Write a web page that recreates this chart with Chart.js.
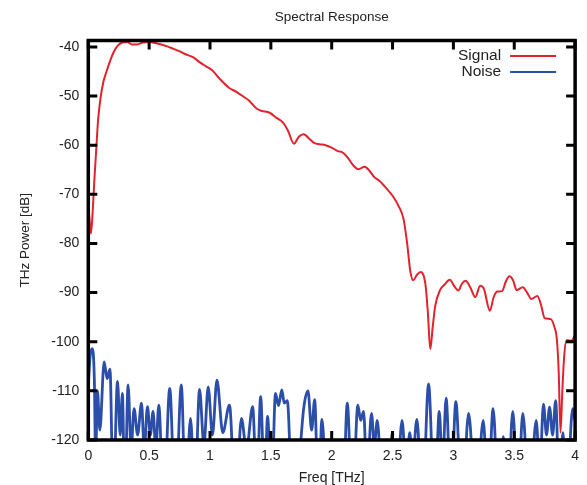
<!DOCTYPE html>
<html>
<head>
<meta charset="utf-8">
<title>Spectral Response</title>
<script src="https://cdn.jsdelivr.net/npm/chart.js@4.4.1/dist/chart.umd.min.js"></script>
<style>
  html, body { margin: 0; padding: 0; background: #fff; }
  #chart { display: block; }
</style>
</head>
<body>
<canvas id="chart" width="587" height="485"></canvas>
<script>
(function () {
    "use strict";

    // tick labels
    const xTicks = [0, 0.5, 1, 1.5, 2, 2.5, 3, 3.5, 4];
    const yTicks = [-120, -110, -100, -90, -80, -70, -60, -50, -40];

    // signal spectrum (THz, dB)
    const signalFreq = [
        0, 0.01, 0.022, 0.035, 0.05, 0.065, 0.08, 0.1, 0.125, 0.15, 0.18, 0.21, 0.24, 0.28, 0.32,
        0.36, 0.4, 0.45, 0.5, 0.55, 0.6, 0.65, 0.7, 0.75, 0.8, 0.86, 0.92, 0.97, 1.02, 1.08,
        1.15, 1.22, 1.28, 1.32, 1.38, 1.42, 1.49, 1.55, 1.6, 1.64, 1.69, 1.73, 1.77, 1.82, 1.86,
        1.9, 1.95, 2.0, 2.05, 2.09, 2.13, 2.18, 2.22, 2.27, 2.31, 2.35, 2.39, 2.45, 2.5, 2.55,
        2.59, 2.62, 2.645, 2.67, 2.7, 2.73, 2.77, 2.79, 2.81, 2.83, 2.85, 2.89, 2.93, 2.97, 3.01,
        3.04, 3.07, 3.1, 3.14, 3.18, 3.22, 3.25, 3.3, 3.33, 3.36, 3.4, 3.43, 3.46, 3.49, 3.52,
        3.57, 3.61, 3.64, 3.69, 3.72, 3.75, 3.8, 3.83, 3.85, 3.865, 3.88, 3.895, 3.91, 3.93, 3.97, 4.0
    ];
    const signalPower = [
        -71.5, -75, -78, -74, -67, -61, -55, -50.5, -47, -45, -42.8, -41, -39.8, -39.1, -39.0,
        -39.5, -39.5, -39.1, -39.0, -39.2, -39.5, -39.9, -40.4, -40.9, -41.5, -42.1, -43.2, -44.0, -44.8, -46.5,
        -48.2, -49.2, -50.2, -50.9, -52.5, -53.0, -53.4, -54.5, -55.4, -57.0, -59.7, -58.3, -57.8, -58.8, -59.6,
        -59.8, -60.0, -60.5, -61.2, -61.5, -62.5, -64.2, -64.9, -64.4, -65.2, -66.5, -67.2, -68.8, -70.3, -72.4,
        -75.0, -80.0, -85.5, -87.5, -86.4, -85.8, -88.3, -94, -101.5, -97, -92.8, -89.5, -88.3, -87.4, -88.8,
        -89.6, -88.2, -87.6, -89.0, -90.9, -88.6, -89.2, -93.7, -91, -89.8, -89.7, -87.8, -86.7, -87.5, -89.5,
        -88.9, -90.2, -91.3, -90.7, -92.5, -95.2, -95.4, -97, -99.5, -106, -118.5, -110, -103, -99.7, -99.8, -98.6
    ];

    // noise floor lobes (peaks and the nulls between them, nulls fall below the axis)
    const noiseFreq = [
        0, 0.015, 0.033, 0.05, 0.06, 0.075, 0.095, 0.13, 0.155, 0.178, 0.205, 0.24, 0.262, 0.28, 0.3,
        0.327, 0.352, 0.376, 0.405, 0.437, 0.46, 0.486, 0.51, 0.532, 0.555, 0.579, 0.62, 0.669, 0.715, 0.764,
        0.8, 0.84, 0.875, 0.914, 0.95, 0.985, 1.02, 1.057, 1.105, 1.16, 1.21, 1.258, 1.3, 1.35, 1.385,
        1.416, 1.448, 1.473, 1.505, 1.538, 1.563, 1.59, 1.61, 1.635, 1.68, 1.73, 1.77, 1.805, 1.835, 1.86,
        1.89, 1.92, 1.965, 2.05, 2.09, 2.128, 2.17, 2.215, 2.238, 2.262, 2.29, 2.327, 2.35, 2.375, 2.42,
        2.47, 2.496, 2.53, 2.578, 2.615, 2.64, 2.665, 2.7, 2.745, 2.796, 2.845, 2.884, 2.91, 2.94, 2.98,
        3.02, 3.07, 3.125, 3.185, 3.245, 3.285, 3.326, 3.37, 3.41, 3.445, 3.488, 3.53, 3.57, 3.625, 3.68,
        3.71, 3.74, 3.765, 3.79, 3.815, 3.84, 3.87, 3.9, 3.93, 3.98, 4.0
    ];
    const noisePower = [
        -109, -103, -101.4, -108, -124, -110, -118, -104.1, -107.5, -105.6, -132, -108.1, -119, -110.5, -132,
        -108.8, -122, -113.6, -119, -112.5, -122, -113.2, -119, -114.2, -122, -112.9, -134, -109.5, -134, -108.8,
        -132, -115.6, -132, -109.7, -121, -109.2, -119, -107.8, -118.5, -112.9, -134, -115.6, -122, -113.2, -130,
        -111.2, -130, -115.2, -132, -110.5, -113, -109.8, -112.5, -112, -134, -125, -113.5, -110, -118, -111.8,
        -132, -115.8, -134, -134, -134, -112.5, -134, -112.9, -116, -114.2, -128, -114.6, -121, -116, -134,
        -132, -118.5, -132, -116, -128, -118.5, -124, -115.8, -134, -108.6, -134, -114.2, -126, -111.5, -132,
        -112.2, -134, -114.6, -134, -116, -132, -113.6, -132, -119.3, -132, -114.2, -132, -114.6, -134, -116,
        -126, -112.7, -119, -113.3, -119, -112, -130, -118.5, -132, -113.6, -116
    ];

    const signalColor = '#e2222c';
    const noiseColor = '#2b4ea8';
    const fontFamily = '"Liberation Sans", Arial, Helvetica, sans-serif';

    function toPoints(xs, ys) {
        return xs.map((v, i) => ({ x: v, y: ys[i] }));
    }

    // gnuplot style frame with inward ticks on all four sides
    const framePlugin = {
        id: 'frame',
        afterDatasetsDraw(chart) {
            const ctx = chart.ctx;
            const a = chart.chartArea;
            const x = chart.scales.x;
            const y = chart.scales.y;
            const len = 9;

            ctx.save();
            ctx.strokeStyle = '#000';
            ctx.lineWidth = 3;
            ctx.beginPath();
            xTicks.forEach(v => {
                const px = x.getPixelForValue(v);
                ctx.moveTo(px, a.bottom);
                ctx.lineTo(px, a.bottom - len);
                ctx.moveTo(px, a.top);
                ctx.lineTo(px, a.top + len);
            });
            yTicks.forEach(v => {
                const py = y.getPixelForValue(v);
                ctx.moveTo(a.left, py);
                ctx.lineTo(a.left + len, py);
                ctx.moveTo(a.right, py);
                ctx.lineTo(a.right - len, py);
            });
            ctx.stroke();

            ctx.lineWidth = 3.5;
            ctx.strokeRect(a.left, a.top, a.right - a.left, a.bottom - a.top);
            ctx.restore();
        }
    };

    // key in the top right corner: label first, then the line sample
    const keyPlugin = {
        id: 'key',
        afterDraw(chart) {
            const ctx = chart.ctx;
            const a = chart.chartArea;
            ctx.save();
            ctx.font = '15.5px ' + fontFamily;
            ctx.textAlign = 'right';
            ctx.textBaseline = 'middle';
            chart.data.datasets.forEach((ds, i) => {
                const yy = a.top + 15.5 + i * 16;
                ctx.fillStyle = '#222';
                ctx.fillText(ds.label, a.right - 74, yy);
                ctx.strokeStyle = ds.borderColor;
                ctx.lineWidth = 2.2;
                ctx.beginPath();
                ctx.moveTo(a.right - 65, yy);
                ctx.lineTo(a.right - 19, yy);
                ctx.stroke();
            });
            ctx.restore();
        }
    };

    const ctx = document.getElementById('chart').getContext('2d');

    new Chart(ctx, {
        type: 'line',
        data: {
            datasets: [{
                label: 'Signal',
                data: toPoints(signalFreq, signalPower),
                borderColor: signalColor,
                borderWidth: 2,
                pointRadius: 0,
                cubicInterpolationMode: 'monotone',
                fill: false
            }, {
                label: 'Noise',
                data: toPoints(noiseFreq, noisePower),
                borderColor: noiseColor,
                borderWidth: 2.8,
                pointRadius: 0,
                cubicInterpolationMode: 'monotone',
                fill: false
            }]
        },
        options: {
            responsive: false,
            animation: false,
            events: [],
            layout: {
                padding: { left: 0, right: 9.5, top: 0, bottom: 0 }
            },
            plugins: {
                legend: { display: false },
                tooltip: { enabled: false },
                title: {
                    display: true,
                    fullSize: false,
                    text: 'Spectral Response',
                    color: '#222',
                    font: { family: fontFamily, size: 13.5, weight: 'normal' },
                    padding: { top: 8.9, bottom: 15.4 }
                }
            },
            scales: {
                x: {
                    type: 'linear',
                    min: 0,
                    max: 4,
                    afterBuildTicks: s => { s.ticks = xTicks.map(v => ({ value: v })); },
                    afterFit: s => { s.height = 45; },
                    grid: { display: false, drawTicks: false },
                    border: { display: false },
                    ticks: {
                        color: '#222',
                        padding: 8,
                        maxRotation: 0,
                        autoSkip: false,
                        callback: v => String(v),
                        font: { family: fontFamily, size: 14 }
                    },
                    title: {
                        display: true,
                        text: 'Freq [THz]',
                        color: '#222',
                        font: { family: fontFamily, size: 14 },
                        padding: { top: 0, bottom: -2 }
                    }
                },
                y: {
                    type: 'linear',
                    min: -120,
                    max: -38.7,
                    afterBuildTicks: s => { s.ticks = yTicks.map(v => ({ value: v })); },
                    afterFit: s => { s.width = 88.3; },
                    grid: { display: false, drawTicks: false },
                    border: { display: false },
                    ticks: {
                        color: '#222',
                        padding: 9,
                        callback: v => String(v),
                        font: { family: fontFamily, size: 14 }
                    },
                    title: {
                        display: true,
                        text: 'THz Power [dB]',
                        color: '#222',
                        font: { family: fontFamily, size: 13.5 },
                        padding: { top: 17, bottom: 0 }
                    }
                }
            }
        },
        plugins: [framePlugin, keyPlugin]
    });
})();
</script>
</body>
</html>
